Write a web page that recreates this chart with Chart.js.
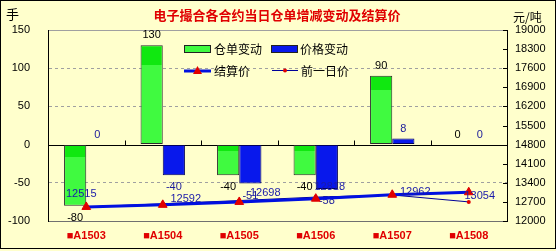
<!DOCTYPE html>
<html>
<head>
<meta charset="utf-8">
<script src="https://cdn.jsdelivr.net/npm/chart.js@4"></script>
<style>
  html, body { margin: 0; padding: 0; background: #ffffcc; }
  #wrap { width: 556px; height: 251px; }
</style>
</head>
<body>
<div id="wrap"><canvas id="chart" width="556" height="251"></canvas></div>
<script>
// data
const contracts = ["■A1503", "■A1504", "■A1505", "■A1506", "■A1507", "■A1508"];
const receiptChange = [-80, 130, -40, -40, 90, 0];      // 仓单变动 (手)
const priceChange = [0, -40, -51, -58, 8, 0];           // 价格变动
const settlePrice = [12515, 12592, 12698, 12818, 12962, 13054]; // 结算价
const prevPrice = [12515, 12632, 12749, 12876, 12954, 12700];   // 前一日价

const BG = "#ffffcc";
const GREEN_DARK = "#10e810";
const GREEN = "#40fa40";
const BLUE = "#0818ec";
const LINE_BLUE = "#0010e0";
const RED = "#e00000";
const CJK = "'Noto Sans CJK SC', sans-serif";
const LATIN = "'Liberation Sans', Arial, sans-serif";

// label offsets for the settlement values (dx, dy from the point)
const settleLabelOffset = [[-5, -13], [23, -6], [26, -9], [14, -12], [23, -3], [11, 4]];

function greenFill(ctx) {
  const chart = ctx.chart;
  if (!chart.chartArea || ctx.type !== "data") return GREEN;
  const ys = chart.scales.y;
  const v = ctx.parsed.y;
  const a = ys.getPixelForValue(Math.max(v, 0));
  const b = ys.getPixelForValue(Math.min(v, 0));
  if (Math.abs(b - a) < 1) return GREEN;
  const g = chart.ctx.createLinearGradient(0, a, 0, b);
  g.addColorStop(0, GREEN_DARK);
  g.addColorStop(0.2, GREEN_DARK);
  g.addColorStop(0.2, GREEN);
  g.addColorStop(1, GREEN);
  return g;
}

const plain = (v) => String(v);

const decor = {
  id: "decor",
  beforeDraw(chart) {
    const c = chart.ctx;
    c.save();
    c.fillStyle = BG;
    c.fillRect(0, 0, chart.width, chart.height);
    c.restore();
  },
  beforeDatasetsDraw(chart) {
    const c = chart.ctx;
    const { left, right } = chart.chartArea;
    const y0 = Math.round(chart.scales.y.getPixelForValue(0)) + 0.5;
    const xs = chart.scales.x;
    c.save();
    c.strokeStyle = "#000";
    c.lineWidth = 1;
    c.beginPath();
    c.moveTo(left, y0);
    c.lineTo(right, y0);
    for (let i = 1; i < contracts.length; i++) {
      const x = Math.round((xs.getPixelForValue(i - 1) + xs.getPixelForValue(i)) / 2) + 0.5;
      c.moveTo(x, y0);
      c.lineTo(x, y0 - 5);
    }
    // inner ticks of the right axis
    const y2 = chart.scales.y2;
    y2.ticks.forEach((t, i) => {
      const y = Math.round(y2.getPixelForTick(i)) + 0.5;
      c.moveTo(right, y);
      c.lineTo(right - 4, y);
    });
    c.stroke();
    c.restore();
  },
  afterDatasetDraw(chart, args) {
    const ds = chart.data.datasets[args.index];
    if (ds.type !== "bar") return;
    const c = chart.ctx;
    const meta = args.meta;
    c.save();
    c.font = "11px " + LATIN;
    c.textAlign = "center";
    c.textBaseline = "middle";
    c.fillStyle = args.index === 0 ? "#000" : "#1a1a9a";
    meta.data.forEach((bar, i) => {
      const v = ds.data[i];
      const y = v < 0 ? bar.y + 12 : bar.y - 10;
      c.fillText(String(v), bar.x, y);
    });
    c.restore();
  },
  afterDatasetsDraw(chart) {
    const c = chart.ctx;
    const meta = chart.getDatasetMeta(2);
    c.save();
    c.font = "11px " + LATIN;
    c.textAlign = "center";
    c.textBaseline = "middle";
    c.fillStyle = "#1a1aaa";
    meta.data.forEach((p, i) => {
      const [dx, dy] = settleLabelOffset[i];
      c.fillText(String(settlePrice[i]), p.x + dx, p.y + dy);
    });
    c.restore();
  },
  afterDraw(chart) {
    const c = chart.ctx;
    const sets = chart.data.datasets;
    c.save();
    // outer frame
    c.strokeStyle = "#000";
    c.lineWidth = 1;
    c.strokeRect(0.5, 0.5, 555, 248);

    // title and units
    c.textBaseline = "middle";
    c.fillStyle = RED;
    c.font = "bold 13px " + CJK;
    c.textAlign = "center";
    c.fillText("电子撮合各合约当日仓单增减变动及结算价", 277, 15);
    c.fillStyle = "#000";
    c.font = "13px " + CJK;
    c.textAlign = "left";
    c.fillText("手", 6, 14);
    c.font = "12px " + CJK;
    c.fillText("元/吨", 513, 17);

    // legend
    c.font = "12px " + CJK;
    c.strokeStyle = "#222";
    c.fillStyle = GREEN;
    c.fillRect(184.5, 45.5, 26, 7);
    c.strokeRect(184.5, 45.5, 26, 7);
    c.fillStyle = sets[1].backgroundColor;
    c.fillRect(271.5, 45.5, 26, 7);
    c.strokeRect(271.5, 45.5, 26, 7);
    c.fillStyle = "#000";
    c.fillText(sets[0].label, 214, 49);
    c.fillText(sets[1].label, 300, 49);

    c.strokeStyle = sets[2].borderColor;
    c.lineWidth = 3;
    c.beginPath();
    c.moveTo(184, 71);
    c.lineTo(211, 71);
    c.stroke();
    c.fillStyle = RED;
    c.beginPath();
    c.moveTo(197.5, 66);
    c.lineTo(202, 74);
    c.lineTo(193, 74);
    c.closePath();
    c.fill();

    c.strokeStyle = sets[3].borderColor;
    c.lineWidth = 1;
    c.beginPath();
    c.moveTo(272, 70.5);
    c.lineTo(298, 70.5);
    c.stroke();
    c.fillStyle = RED;
    c.beginPath();
    c.arc(285, 70.5, 2, 0, Math.PI * 2);
    c.fill();

    c.fillStyle = "#000";
    c.fillText(sets[2].label, 214, 71);
    c.fillText(sets[3].label, 301, 71);
    c.restore();
  },
};

const chart = new Chart(document.getElementById("chart"), {
  data: {
    labels: contracts,
    datasets: [
      {
        type: "bar",
        label: "仓单变动",
        data: receiptChange,
        yAxisID: "y",
        backgroundColor: greenFill,
        borderColor: "#2a2a2a",
        borderWidth: 1,
        borderSkipped: false,
        categoryPercentage: 0.58,
        barPercentage: 1.0,
        order: 2,
      },
      {
        type: "bar",
        label: "价格变动",
        data: priceChange,
        yAxisID: "y",
        backgroundColor: BLUE,
        borderColor: "#000060",
        borderWidth: 1,
        borderSkipped: false,
        categoryPercentage: 0.58,
        barPercentage: 1.0,
        order: 2,
      },
      {
        type: "line",
        label: "结算价",
        data: settlePrice,
        yAxisID: "y2",
        borderColor: LINE_BLUE,
        borderWidth: 3,
        tension: 0,
        pointStyle: "triangle",
        pointRadius: 5,
        pointBackgroundColor: RED,
        pointBorderColor: RED,
        pointBorderWidth: 1,
        order: 0,
      },
      {
        type: "line",
        label: "前一日价",
        data: prevPrice,
        yAxisID: "y2",
        borderColor: "#000099",
        borderWidth: 1,
        tension: 0,
        pointStyle: "circle",
        pointRadius: 2,
        pointBackgroundColor: RED,
        pointBorderWidth: 0,
        order: 1,
      },
    ],
  },
  options: {
    responsive: false,
    animation: false,
    layout: { padding: { top: 30, left: 0, right: 0, bottom: 0 } },
    plugins: {
      legend: { display: false },
      tooltip: { enabled: false },
    },
    scales: {
      x: {
        grid: { display: false, drawTicks: false },
        border: { display: true, color: "#707070" },
        ticks: {
          color: RED,
          font: { family: LATIN, size: 11, weight: "bold" },
          padding: 8,
          maxRotation: 0,
        },
        afterFit(s) { s.height = 30; },
      },
      y: {
        position: "left",
        min: -100,
        max: 150,
        ticks: {
          stepSize: 50,
          color: "#000",
          font: { family: LATIN, size: 11 },
          padding: 18,
          callback: plain,
        },
        grid: {
          drawTicks: false,
          color: (ctx) => (ctx.tick && ctx.tick.value === 0 ? "rgba(0,0,0,0)" : "#a0a0a0"),
        },
        border: {
          color: "#000",
          dash: (ctx) => {
            const v = ctx.tick ? ctx.tick.value : null;
            return v === 100 || v === 50 || v === -50 ? [3, 3] : [];
          },
        },
        afterFit(s) { s.width = 48; },
      },
      y2: {
        position: "right",
        min: 12000,
        max: 19000,
        ticks: {
          stepSize: 700,
          color: "#000",
          font: { family: LATIN, size: 11 },
          padding: 8,
          callback: plain,
        },
        grid: { display: false, drawTicks: false },
        border: { color: "#000" },
        afterFit(s) { s.width = 49; },
      },
    },
  },
  plugins: [decor],
});
</script>
</body>
</html>
